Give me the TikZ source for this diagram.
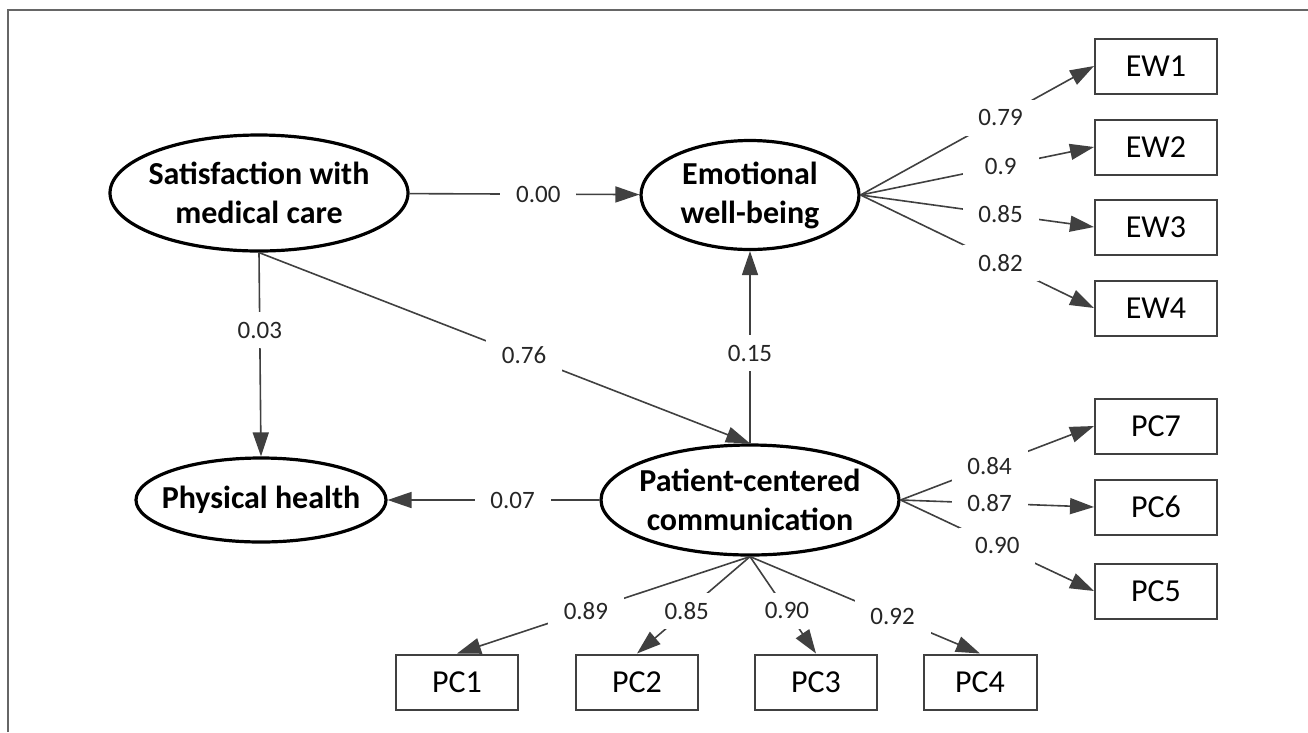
\documentclass[tikz,border=0pt]{standalone}
\usepackage{fontspec}
\setmainfont{Carlito}
\usetikzlibrary{shapes}
\usetikzlibrary{arrows.meta}

\begin{document}
\begin{tikzpicture}[x=1pt,y=-1pt]
					\tikzstyle{latent}=[ellipse,draw=black,line width=3.2pt,inner sep=-12pt,align=center,font=\fontsize{32}{39}\selectfont\bfseries]
					\tikzstyle{item}=[rectangle,draw=black!75,line width=2pt,minimum width=122pt,minimum height=55pt,font=\fontsize{32}{38}\selectfont]
					\tikzstyle{link}=[draw=black!75,line width=1.6pt,-{Triangle[length=24pt,width=16pt]}]
					\tikzstyle{loading}=[fill=white,minimum width=76pt,minimum height=36pt,inner sep=0pt,text=black!85,font=\fontsize{25}{29}\selectfont]
					
					\useasboundingbox (0,0) rectangle (1308,732);
					\draw[black!60,line width=2pt] (8,732) -- (8,10) -- (1308,10);
					
					\node[latent,minimum width=298pt,minimum height=116pt] (sat) at (259,193) {Satisfaction with\\medical care};
					\node[latent,minimum width=218pt,minimum height=109pt] (emo) at (750,195) {Emotional\\well-being};
					\node[latent,minimum width=250pt,minimum height=84pt] (phys) at (261,500) {Physical health};
					\node[latent,minimum width=298pt,minimum height=110pt] (pcc) at (750,500) {Patient-centered\\communication};
					
					\node[item] (ew1) at (1156,66) {EW1};
					\node[item] (ew2) at (1156,147) {EW2};
					\node[item] (ew3) at (1156,227) {EW3};
					\node[item] (ew4) at (1156,308) {EW4};
					\node[item] (pc7) at (1156,426) {PC7};
					\node[item] (pc6) at (1156,507) {PC6};
					\node[item] (pc5) at (1156,591) {PC5};
					\node[item] (pc1) at (457,682) {PC1};
					\node[item] (pc2) at (637,682) {PC2};
					\node[item] (pc3) at (816,682) {PC3};
					\node[item,minimum width=113pt] (pc4) at (980,682) {PC4};
					
					\draw[link] (sat) -- node[loading,pos=0.56] {0.00} (emo);
					\draw[link] (sat.south) -- node[loading,pos=0.38] {0.03} (phys.north);
					\draw[link] (sat.south) -- node[loading,pos=0.54] {0.76} (pcc.north);
					\draw[link] (pcc.north) -- node[loading,pos=0.47] {0.15} (emo.south);
					\draw[link] (pcc.west) -- node[loading,pos=0.41] {0.07} (phys.east);
					
					\draw[link] (emo.east) -- node[loading,pos=0.6] {0.79} (ew1.west);
					\draw[link] (emo.east) -- node[loading,pos=0.6] {0.9} (ew2.west);
					\draw[link] (emo.east) -- node[loading,pos=0.6] {0.85} (ew3.west);
					\draw[link] (emo.east) -- node[loading,pos=0.6] {0.82} (ew4.west);
					
					\draw[link] (pcc.east) -- node[loading,pos=0.46] {0.84} (pc7.west);
					\draw[link] (pcc.east) -- node[loading,pos=0.46] {0.87} (pc6.west);
					\draw[link] (pcc.east) -- node[loading,pos=0.5] {0.90} (pc5.west);
					
					\draw[link] (pcc.south) -- node[loading,pos=0.56] {0.89} (pc1.north);
					\draw[link] (pcc.south) -- node[loading,pos=0.56] {0.85} (pc2.north);
					\draw[link] (pcc.south) -- node[loading,pos=0.56] {0.90} (pc3.north);
					\draw[link] (pcc.south) -- node[loading,pos=0.62] {0.92} (pc4.north);
\end{tikzpicture}
\end{document}
